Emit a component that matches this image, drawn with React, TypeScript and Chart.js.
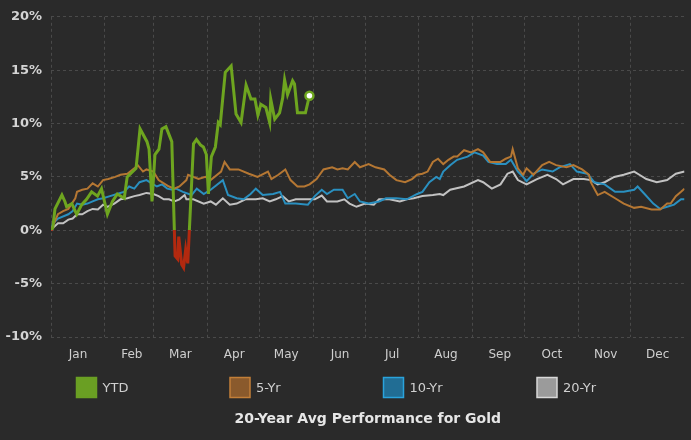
import React, { useEffect, useRef } from 'react';
import { Chart, registerables } from 'chart.js';

Chart.register(...registerables);

const MONTHS = ['Jan', 'Feb', 'Mar', 'Apr', 'May', 'Jun', 'Jul', 'Aug', 'Sep', 'Oct', 'Nov', 'Dec'];
const MONTH_START_DAYS = [0, 31, 59, 90, 120, 151, 181, 212, 243, 273, 304, 334];
const DAYS_IN_YEAR = 365;
const Y_MIN = -10;
const Y_MAX = 20;
const Y_STEP = 5;
const SERIES_LABELS = ['YTD', '5-Yr', '10-Yr', '20-Yr'];
const TITLE = '20-Year Avg Performance for Gold';

// [day of year, % change]
const YTD: [number, number][] = [
  [0, 0], [1, 0.2], [2.3, 2.0], [6.3, 3.3], [8, 2.7], [9, 2.2], [12, 2.5], [14.8, 1.5], [17.7, 2.4],
  [20.5, 2.9], [23.4, 3.6], [26.8, 3.2], [29.1, 3.9], [32.5, 1.5], [35.4, 2.7], [38.2, 3.4], [42.2, 3.0],
  [43.9, 5.0], [49, 5.8], [51.3, 9.5], [55.3, 8.3], [56.5, 7.6], [58.2, 2.7], [59.9, 7.1], [62.2, 7.6],
  [63.9, 9.5], [66.2, 9.7], [69.6, 8.3], [71.5, -2.4], [73, -2.7], [73.6, -0.6], [75.3, -3.2], [76.4, -3.5],
  [77.6, -1.8], [78.8, -3.1], [82.1, 8.1], [83.8, 8.5], [86.1, 8.0], [87.8, 7.8], [89.5, 7.1], [90.7, 3.4],
  [92.4, 6.9], [94.7, 7.8], [96.4, 10.1], [97.5, 9.9], [100.4, 14.8], [103.8, 15.4], [106.6, 10.9],
  [109.5, 10.1], [112.4, 13.6], [115.2, 12.3], [117.5, 12.3], [119.2, 10.8], [120.9, 11.8], [123.8, 11.5],
  [126, 10.1], [126.6, 12.3], [128.9, 10.4], [131.7, 11.0], [133.5, 12.4], [134.6, 14.1], [136.3, 12.7],
  [139.2, 14.0], [140.3, 13.7], [142, 11.0], [146.6, 11.0], [148.9, 12.6],
];

const FIVE_YR: [number, number][] = [
  [0, 0], [1, 0.4], [4, 1.5], [7, 1.8], [10, 2.0], [14, 3.0], [15, 3.6], [18, 3.8], [21, 3.9], [24, 4.4],
  [27, 4.1], [30, 4.7], [33, 4.8], [37, 5.0], [40, 5.2], [44, 5.3], [48, 5.8], [50, 6.1], [53, 5.5], [55, 5.7],
  [59, 5.5], [62, 4.7], [65, 4.4], [68, 4.1], [71, 3.9], [74, 4.1], [78, 4.7], [79, 5.2], [85, 4.8], [89, 5.0],
  [92, 4.7], [98, 5.5], [100, 6.4], [103, 5.7], [108, 5.7], [114, 5.3], [119, 5.0], [125, 5.5], [127, 4.8],
  [131, 5.2], [135, 5.7], [138, 4.7], [142, 4.1], [146, 4.1], [149, 4.3], [153, 4.8], [157, 5.7], [162, 5.9],
  [165, 5.7], [168, 5.8], [171, 5.7], [175, 6.4], [178, 5.9], [183, 6.2], [187, 5.9], [192, 5.7], [195, 5.2],
  [199, 4.7], [204, 4.5], [208, 4.8], [211, 5.2], [214, 5.3], [217, 5.5], [220, 6.4], [223, 6.7], [226, 6.2],
  [229, 6.6], [232, 6.9], [234, 6.9], [238, 7.5], [242, 7.3], [246, 7.6], [249, 7.3], [253, 6.4], [259, 6.4],
  [262, 6.7], [265, 6.9], [266, 7.6], [269, 5.8], [272, 5.2], [274, 5.8], [278, 5.2], [283, 6.1], [287, 6.4],
  [291, 6.1], [297, 5.9], [301, 6.1], [306, 5.7], [310, 5.2], [311, 4.5], [315, 3.3], [319, 3.6], [325, 3.0],
  [330, 2.5], [336, 2.1], [340, 2.2], [346, 1.95], [351, 1.95], [355, 2.5], [357, 2.5], [360, 3.2], [363, 3.6],
  [365, 3.9],
];

const TEN_YR: [number, number][] = [
  [0, 0], [1, 0.6], [4, 1.1], [10, 1.5], [12.5, 1.8], [15, 2.5], [18, 2.4], [21, 2.5], [24, 2.7], [27, 2.9],
  [30, 3.0], [34, 3.2], [38, 3.4], [42, 3.6], [45, 4.1], [48, 3.9], [51, 4.5], [55, 4.7], [58, 4.4], [61, 4.1],
  [64, 4.3], [67, 3.9], [70, 3.8], [72, 3.9], [76, 3.6], [81, 3.3], [84, 3.9], [88, 3.4], [92, 3.8], [99, 4.7],
  [102, 3.3], [107, 3.0], [111, 2.9], [115, 3.4], [118, 3.9], [122, 3.3], [128, 3.4], [132, 3.6], [135, 2.5],
  [141, 2.5], [148, 2.4], [152, 3.2], [156, 3.8], [159, 3.4], [163, 3.8], [168, 3.8], [171, 3.0], [175, 3.4],
  [178, 2.7], [183, 2.5], [189, 2.7], [193, 3.0], [199, 3.0], [205, 2.9], [211, 3.4], [214, 3.6], [218, 4.5],
  [222, 5.0], [224, 4.8], [226, 5.5], [230, 6.1], [234, 6.6], [240, 6.9], [244, 7.3], [249, 7.0], [252, 6.4],
  [257, 6.2], [262, 6.2], [265, 6.6], [269, 5.5], [272, 5.0], [274, 4.6], [278, 5.3], [283, 5.7], [289, 5.5],
  [293, 5.9], [299, 6.2], [303, 5.5], [309, 5.3], [313, 4.5], [319, 4.3], [325, 3.6], [330, 3.6], [336, 3.8],
  [338, 4.1], [342, 3.4], [347, 2.5], [351, 2.0], [355, 2.2], [359, 2.4], [363, 2.9], [365, 2.9],
];

const TWENTY_YR: [number, number][] = [
  [0, 0], [1, 0.2], [4, 0.65], [7, 0.65], [10, 1.0], [12.5, 1.1], [15, 1.5], [18, 1.5], [21, 1.8], [24, 2.0],
  [27, 1.95], [30, 2.4], [32.5, 2.2], [36.5, 2.5], [40, 2.9], [44, 3.0], [48, 3.2], [51, 3.3], [55, 3.5],
  [59, 3.4], [62, 3.2], [65, 2.9], [68, 2.9], [71, 2.7], [74, 2.9], [77, 3.3], [78, 2.9], [82, 2.9], [88, 2.5],
  [92, 2.7], [95, 2.4], [99, 3.0], [103, 2.4], [107, 2.5], [112, 2.9], [118, 2.9], [122, 3.0], [126, 2.7],
  [129.5, 2.9], [133.5, 3.2], [137, 2.7], [141, 2.9], [147, 2.9], [152, 2.9], [156, 3.25], [159, 2.7],
  [165, 2.7], [169, 2.9], [172, 2.5], [176, 2.2], [181, 2.5], [186, 2.4], [189, 2.9], [195, 2.9], [201, 2.7],
  [205, 2.9], [209, 3.0], [214, 3.2], [220, 3.3], [224, 3.4], [226, 3.3], [230, 3.8], [238, 4.1], [246, 4.7],
  [249, 4.5], [254, 3.9], [259, 4.3], [263, 5.3], [266, 5.5], [269, 4.7], [274, 4.3], [280, 4.8], [286, 5.2],
  [291, 4.8], [295, 4.3], [301, 4.8], [307, 4.8], [311, 4.7], [315, 4.3], [319, 4.5], [324.5, 5.0], [330, 5.2],
  [336, 5.5], [339, 5.2], [343, 4.8], [349, 4.5], [355, 4.7], [360, 5.3], [365, 5.5],
];

const BG = '#2a2a2a';
const GRID = '#4a4a4a';
const GREEN = '#6ea51f';
const RED = '#b3290f';
const ORANGE = '#b57733';
const BLUE = '#2a90c0';
const GRAY = '#c2c2c2';
const LEGEND_FILL = ['#6a9f23', '#8a5a2c', '#216d94', '#9b9b9b'];
const LEGEND_STROKE = ['#6a9f23', '#c27f38', '#2aa3dc', '#d8d8d8'];
const FONT = '"DejaVu Sans", Verdana, sans-serif';

export default function App() {
  const ref = useRef<HTMLCanvasElement>(null);

  useEffect(() => {
    const canvas = ref.current;
    if (!canvas) return;
    const toPts = (arr: [number, number][]) => arr.map(([x, y]) => ({ x, y }));

    const chrome = {
      id: 'chrome',
      beforeDraw(chart: any) {
        const { ctx, width, height } = chart;
        ctx.save();
        ctx.fillStyle = BG;
        ctx.fillRect(0, 0, width, height);
        ctx.restore();
      },
      afterDraw(chart: any) {
        const { ctx, chartArea } = chart;
        ctx.save();
        // legend
        ctx.font = `13px ${FONT}`;
        ctx.textBaseline = 'middle';
        ctx.textAlign = 'left';
        SERIES_LABELS.forEach((label, i) => {
          const x = chartArea.left + 25.5 + i * 153.5;
          const y = 377.5;
          ctx.fillStyle = LEGEND_FILL[i];
          ctx.fillRect(x, y, 20, 20);
          ctx.strokeStyle = LEGEND_STROKE[i];
          ctx.lineWidth = 1.5;
          ctx.strokeRect(x, y, 20, 20);
          ctx.fillStyle = '#d0d0d0';
          ctx.fillText(label, x + 26, y + 11);
        });
        // title
        ctx.font = `bold 14px ${FONT}`;
        ctx.textAlign = 'center';
        ctx.fillStyle = '#e6e6e6';
        ctx.fillText(TITLE, (chartArea.left + chartArea.right) / 2, 419);
        ctx.restore();
      },
    };

    const ytdColor = (c: any) => {
      const chart = c.chart;
      const area = chart.chartArea;
      if (!area) return GREEN;
      const y0 = chart.scales.y.getPixelForValue(0);
      const g = chart.ctx.createLinearGradient(0, area.top, 0, area.bottom);
      const s = Math.min(1, Math.max(0, (y0 - area.top) / (area.bottom - area.top)));
      g.addColorStop(0, GREEN);
      g.addColorStop(s, GREEN);
      g.addColorStop(s, RED);
      g.addColorStop(1, RED);
      return g;
    };

    const lastYtd = YTD.length - 1;

    const chart = new Chart(canvas, {
      type: 'line',
      data: {
        datasets: [
          {
            label: SERIES_LABELS[0],
            data: toPts(YTD),
            borderColor: ytdColor,
            borderWidth: 3,
            tension: 0,
            pointRadius: (c: any) => (c.dataIndex === lastYtd ? 4 : 0),
            pointBackgroundColor: '#ffffff',
            pointBorderColor: GREEN,
            pointBorderWidth: 2.5,
            pointHoverRadius: 0,
          },
          { label: SERIES_LABELS[1], data: toPts(FIVE_YR), borderColor: ORANGE, borderWidth: 2, pointRadius: 0, tension: 0 },
          { label: SERIES_LABELS[2], data: toPts(TEN_YR), borderColor: BLUE, borderWidth: 2, pointRadius: 0, tension: 0 },
          { label: SERIES_LABELS[3], data: toPts(TWENTY_YR), borderColor: GRAY, borderWidth: 2, pointRadius: 0, tension: 0 },
        ],
      },
      options: {
        animation: false,
        responsive: false,
        maintainAspectRatio: false,
        layout: { padding: { top: 14, right: 0, bottom: 0, left: 0 } },
        plugins: { legend: { display: false }, title: { display: false }, tooltip: { enabled: false } },
        events: [],
        scales: {
          x: {
            type: 'linear',
            min: 0,
            max: DAYS_IN_YEAR,
            afterBuildTicks: (scale: any) => {
              scale.ticks = MONTH_START_DAYS.map((v) => ({ value: v }));
            },
            afterFit: (scale: any) => {
              scale.height = 103;
            },
            ticks: {
              autoSkip: false,
              maxRotation: 0,
              minRotation: 0,
              padding: 11,
              labelOffset: 27,
              color: '#cfcfcf',
              font: { family: FONT, size: 12 },
              callback: (_v: any, i: number) => MONTHS[i] ?? '',
            },
            grid: { color: GRID, drawTicks: false, lineWidth: 1 },
            border: { display: false, dash: [3, 3] },
          },
          y: {
            type: 'linear',
            min: Y_MIN,
            max: Y_MAX,
            afterFit: (scale: any) => {
              scale.width = 51;
            },
            ticks: {
              stepSize: Y_STEP,
              padding: 9,
              color: '#d4d4d4',
              font: { family: FONT, size: 13, weight: 'bold' },
              callback: (v: any) => `${v}%`,
            },
            grid: { color: GRID, drawTicks: false, lineWidth: 1 },
            border: { display: false, dash: [3, 3] },
          },
        },
      },
      plugins: [chrome],
    } as any);

    return () => chart.destroy();
  }, []);

  return (
    <div style={{ position: 'absolute', left: 0, top: 0, width: 691, height: 440, background: BG }}>
      <canvas ref={ref} width={691} height={440} style={{ display: 'block', width: 691, height: 440 }} />
    </div>
  );
}
